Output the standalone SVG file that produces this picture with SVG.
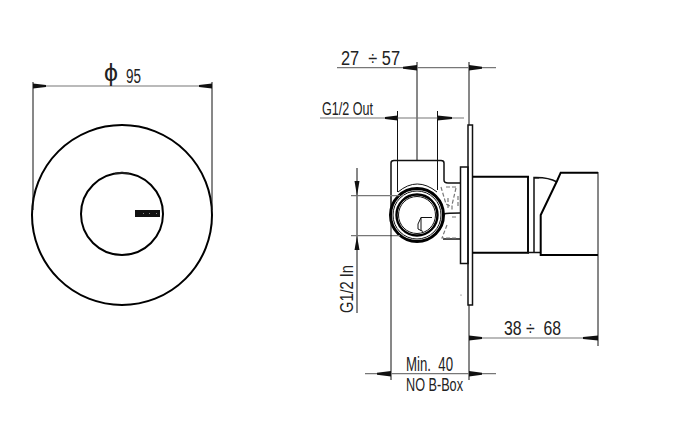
<svg xmlns="http://www.w3.org/2000/svg" width="675" height="427" viewBox="0 0 675 427">
<style>
.bg{fill:#fff}
.o{fill:none;stroke:#000;stroke-width:2}
.m{fill:none;stroke:#111;stroke-width:1.5}
.t{fill:none;stroke:#111;stroke-width:1}
.d{fill:none;stroke:#777;stroke-width:1.2}
.h{fill:none;stroke:#777;stroke-width:1.2;stroke-dasharray:4 2}
.a{fill:#111}
.x{font-family:"Liberation Sans Narrow","Liberation Sans",sans-serif;fill:#222;font-size:20px}
.s{font-size:18px}
</style>
<rect class="bg" width="675" height="427"/>
<g id="front-view">
<circle class="o" cx="122" cy="215" r="90"/>
<circle class="o" cx="122" cy="214" r="41"/>
<path d="M115 173.300Q122 171 129 173.300Z" fill="#222" stroke="#222"/>
<rect x="135" y="210" width="25" height="7" fill="#111"/>
<path d="M143 213.500h1M149 213.500h1M156 213.500h1" stroke="#888"/>
</g>
<g id="side-view">
<path class="m" d="M391 215V163Q391 160.500 394 160.500H441Q444 160.500 444 163V180Q444 183 448 183H460"/>
<path class="m" d="M443 239H460M444 214Q447 213 460 213"/>
<circle cx="417" cy="215" r="26.500" fill="none" stroke="#000" stroke-width="3"/>
<circle class="t" cx="417" cy="215" r="24"/>
<circle cx="417" cy="215" r="20.500" fill="none" stroke="#000" stroke-width="2.400"/>
<circle class="t" cx="417" cy="215" r="18.500"/>
<path class="t" d="M398 192Q417 176 437 192"/>
<path class="t" d="M432 217.500H421L418 224V229L423 231.500M421 217.500V231"/>
<path class="h" d="M441 187L446 204L452 207M446 187H458M456 188L452 205V210M458 196V208M448 198V208M452 217H458M447 225L442 238H457"/>
<rect class="m" x="460.500" y="167" width="7.500" height="96.500"/>
<rect class="m" x="468" y="125" width="4.500" height="180"/>
<path class="o" d="M472.500 176.700H528V252.700H472.500"/>
<path class="m" d="M528 178V252.500H534V177.500Q548 177 557 182M534 178H539M534 252.500H541"/>
<path class="o" d="M557 181L560.700 172.700H598M557 181L540.700 215V255H598"/>
<circle cx="461" cy="295" r="0.600" fill="#555"/>
</g>
<g id="connectors">
<g id="dim-95"><path class="t" d="M33 82V210M212 82V210"/><path class="d" d="M33 86H212"/><path class="a" d="M46 85L33 83.500V88.500L46 87Z"/><path class="a" d="M199 85L212 83.500V88.500L199 87Z"/></g>
<g id="dim-27-57"><path class="t" d="M417 62V160M469 62V125"/><path class="d" d="M337 67.700H496"/><path class="a" d="M403 66.700L417 65V70.500L403 68.700Z"/><path class="a" d="M482 66.700L469 65V70.500L482 68.700Z"/></g>
<g id="dim-out"><path class="t" d="M397.500 111V192M437.500 111V190"/><path class="d" d="M320 118H464"/><path class="a" d="M385 117L397.500 115.500V120.500L385 119Z"/><path class="a" d="M452 117L437.500 115.500V120.500L452 119Z"/></g>
<g id="dim-in"><path class="t" d="M357 168V313"/><path class="d" d="M351 195.700H400M351 235.700H400"/><path class="a" d="M356 181L354.500 181L357 196L359.500 181Z"/><path class="a" d="M356 250L354.500 250L357 236L359.500 250Z"/></g>
<g id="dim-38-68"><path class="t" d="M469 305V380M598 172V346"/><path class="d" d="M469 338H598"/><path class="a" d="M482 337L469 335.500V340.500L482 339Z"/><path class="a" d="M583 337L598 335.500V340.500L583 339Z"/></g>
<g id="dim-40"><path class="t" d="M391 215V380"/><path class="d" d="M365 373.700H496"/><path class="a" d="M377 372.700L391 371V376.500L377 374.700Z"/><path class="a" d="M482 372.700L469 371V376.500L482 374.700Z"/></g>
</g>
<g id="labels">
<text class="x" x="104" y="81" style="font-size:24px" textLength="14" lengthAdjust="spacingAndGlyphs">ϕ</text>
<text class="x" x="126" y="83" textLength="15" lengthAdjust="spacingAndGlyphs">95</text>
<text class="x" x="341" y="65" textLength="59" lengthAdjust="spacingAndGlyphs" xml:space="preserve">27  ÷ 57</text>
<text class="x s" x="322" y="115" textLength="51" lengthAdjust="spacingAndGlyphs">G1/2 Out</text>
<text class="x s" transform="translate(353 313) rotate(-90)" textLength="48" lengthAdjust="spacingAndGlyphs">G1/2 In</text>
<text class="x" x="504" y="335" textLength="57" lengthAdjust="spacingAndGlyphs" xml:space="preserve">38 ÷  68</text>
<text class="x" x="406" y="371" textLength="47" lengthAdjust="spacingAndGlyphs" xml:space="preserve">Min.  40</text>
<text class="x s" x="406" y="390.500" textLength="57" lengthAdjust="spacingAndGlyphs">NO B-Box</text>
</g>
</svg>
